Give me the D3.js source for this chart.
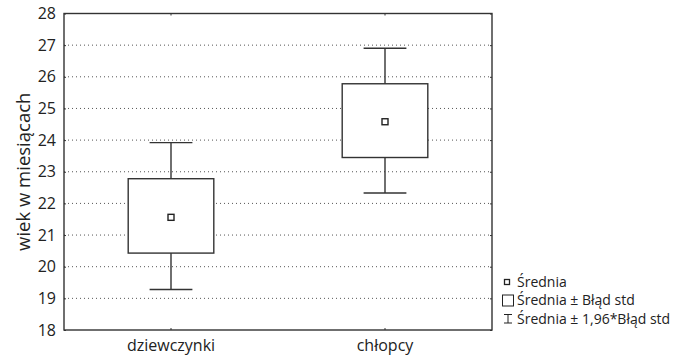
<!DOCTYPE html>
<html><head><meta charset="utf-8">
<script src="https://cdn.jsdelivr.net/npm/d3@7"></script>
<style>body{margin:0;background:#fff}svg{display:block}text{font-family:"Open Sans",sans-serif;fill:#222}</style>
</head><body><svg id="c" width="675" height="356"></svg>
<script>
const categories = ["dziewczynki", "chłopcy"];
const means = [21.56, 24.58];
const boxLow = [20.43, 23.45];
const boxHigh = [22.78, 25.78];
const whiskLow = [19.28, 22.33];
const whiskHigh = [23.92, 26.9];
const yTicks = [18, 19, 20, 21, 22, 23, 24, 25, 26, 27, 28];
const legendLabels = ["Średnia", "Średnia ± Błąd std", "Średnia ± 1,96*Błąd std"];
const yLabel = "wiek w miesiącach";

const svg = d3.select("#c");
const L = 64, R = 492, T = 13.5, B = 330;
const x = d3.scaleBand().domain(categories).range([L, R]).padding(0);
const y = d3.scaleLinear().domain([18, 28]).range([B, T]);
const col = "#333";

// grid
svg.append("g").selectAll("line").data(yTicks.slice(1, -1)).join("line")
  .attr("x1", L).attr("x2", R).attr("y1", d => y(d)).attr("y2", d => y(d))
  .attr("stroke", "#555").attr("stroke-width", 1).attr("stroke-dasharray", "1,3");

// axes
const ax = svg.append("g");
ax.append("g").attr("transform", `translate(${L},0)`)
  .call(d3.axisLeft(y).tickValues(yTicks).tickSize(-2).tickPadding(8).tickFormat(d3.format("d")))
  .call(g => { g.select(".domain").remove(); g.selectAll("line").attr("stroke", col); g.selectAll("text").style("font-size", "16px").attr("fill", "#222"); });
ax.append("g").attr("transform", `translate(${R},0)`)
  .call(d3.axisRight(y).tickValues(yTicks).tickSize(-2).tickFormat(""))
  .call(g => { g.select(".domain").remove(); g.selectAll("line").attr("stroke", col); });
ax.append("g").attr("transform", `translate(0,${B})`)
  .call(d3.axisBottom(x).tickSize(-2).tickPadding(10))
  .call(g => { g.select(".domain").remove(); g.selectAll("line").attr("stroke", col); g.selectAll("text").style("font-size", "16px").attr("fill", "#222"); });
ax.append("g").attr("transform", `translate(0,${T})`)
  .call(d3.axisTop(x).tickSize(-2).tickFormat(""))
  .call(g => { g.select(".domain").remove(); g.selectAll("line").attr("stroke", col); });

// whiskers
const bw = x.bandwidth();
const cx = d => x(d) + bw / 2;
const g = svg.append("g");
categories.forEach((c, i) => {
  g.append("line").attr("x1", cx(c)).attr("x2", cx(c)).attr("y1", y(whiskLow[i])).attr("y2", y(whiskHigh[i])).attr("stroke", col).attr("stroke-width", 1.4);
  [whiskLow[i], whiskHigh[i]].forEach(v => g.append("line").attr("x1", cx(c) - bw * 0.1).attr("x2", cx(c) + bw * 0.1).attr("y1", y(v)).attr("y2", y(v)).attr("stroke", col).attr("stroke-width", 1.4));
  g.append("rect").attr("x", cx(c) - bw * 0.2).attr("width", bw * 0.4).attr("y", y(boxHigh[i])).attr("height", y(boxLow[i]) - y(boxHigh[i]))
    .attr("fill", "#fff").attr("stroke", col).attr("stroke-width", 1.4);
  g.append("rect").attr("x", cx(c) - 3).attr("y", y(means[i]) - 3).attr("width", 6).attr("height", 6).attr("fill", "#fff").attr("stroke", "#222").attr("stroke-width", 1.4);
});

// frame
svg.append("rect").attr("x", L).attr("y", T).attr("width", R - L).attr("height", B - T).attr("fill", "none").attr("stroke", col).attr("stroke-width", 1.4);

// y label
svg.append("text").attr("transform", `translate(24,${(T + B) / 2}) rotate(-90)`).attr("text-anchor", "middle").attr("dy", "0.35em").style("font-size", "18.5px").text(yLabel);

// legend
const lg = svg.append("g");
const ly = [282, 300.5, 319];
lg.append("rect").attr("x", 504.5).attr("y", ly[0] - 2.5).attr("width", 5).attr("height", 5).attr("fill", "#fff").attr("stroke", "#222").attr("stroke-width", 1.3);
lg.append("rect").attr("x", 502.5).attr("y", ly[1] - 5.5).attr("width", 11).attr("height", 11).attr("fill", "#fff").attr("stroke", "#222").attr("stroke-width", 1);
lg.append("path").attr("d", `M504,${ly[2] - 4.5}H512M508,${ly[2] - 4.5}V${ly[2] + 4}M504,${ly[2] + 4}H512`).attr("fill", "none").attr("stroke", "#222").attr("stroke-width", 1);
lg.selectAll("text").data(legendLabels).join("text").attr("x", 517).attr("y", (d, i) => ly[i]).attr("dy", "0.35em").style("font-size", "14px").text(d => d);
</script></body></html>
